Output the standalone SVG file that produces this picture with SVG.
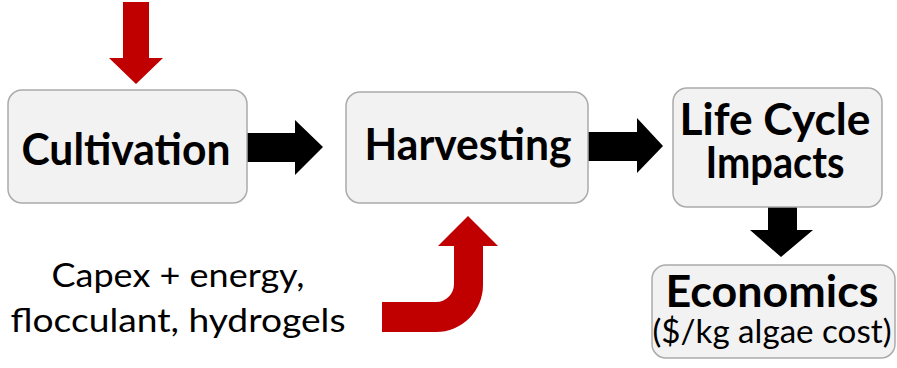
<svg xmlns="http://www.w3.org/2000/svg" width="897" height="368" viewBox="0 0 897 368">
<style>
.box{fill:#f2f2f2;stroke:#ababab;stroke-width:1.5}
.t{font-family:Lato,"Open Sans","Liberation Sans",sans-serif;fill:#000;text-anchor:middle}
.b{font-weight:bold;font-size:44px}
.r{font-size:33px}
.red{fill:#c00000}
.blk{fill:#000}
</style>
<rect width="897" height="368" fill="#fff"/>
<g id="connectors">
<path class="red" d="M123,2 H149 V58 H163 L136,84 L109,58 H123 Z"/>
<path class="blk" d="M247,133 H295 V120 L323,147 L295,175 V162 H247 Z"/>
<path class="blk" d="M588,132 H637 V118 L663,146 L637,173 V161 H588 Z"/>
<path class="blk" d="M768,207 H797 V230 H813 L781,257 L750,230 H768 Z"/>
<path class="red" d="M483,246 V285 A47,47 0 0 1 436,332 H382 V302 H436 A18,18 0 0 0 454,284 V246 H438 L468,216 L498,246 Z"/>
</g>
<g id="cultivation">
<rect class="box" x="8" y="90" width="239" height="113" rx="14"/>
<text class="t b" x="126" y="165" textLength="209" lengthAdjust="spacingAndGlyphs">Cultivation</text>
</g>
<g id="harvesting">
<rect class="box" x="346" y="92" width="242" height="111" rx="14"/>
<text class="t b" x="468" y="160" textLength="207" lengthAdjust="spacingAndGlyphs">Harvesting</text>
</g>
<g id="lca">
<rect class="box" x="673" y="88" width="209" height="119" rx="14"/>
<text class="t b" x="775" y="135" textLength="191" lengthAdjust="spacingAndGlyphs">Life Cycle</text>
<text class="t b" x="775" y="178" textLength="139" lengthAdjust="spacingAndGlyphs">Impacts</text>
</g>
<g id="economics">
<rect class="box" x="652" y="265" width="243" height="93" rx="14"/>
<text class="t b" x="772" y="307" textLength="213" lengthAdjust="spacingAndGlyphs">Economics</text>
<text class="t r" x="772" y="343" textLength="239" lengthAdjust="spacingAndGlyphs">($/kg algae cost)</text>
</g>
<g id="inputs">
<text class="t r" x="178" y="287" textLength="253" lengthAdjust="spacingAndGlyphs">Capex + energy,</text>
<text class="t r" x="178" y="332" textLength="335" lengthAdjust="spacingAndGlyphs">flocculant, hydrogels</text>
</g>
</svg>
